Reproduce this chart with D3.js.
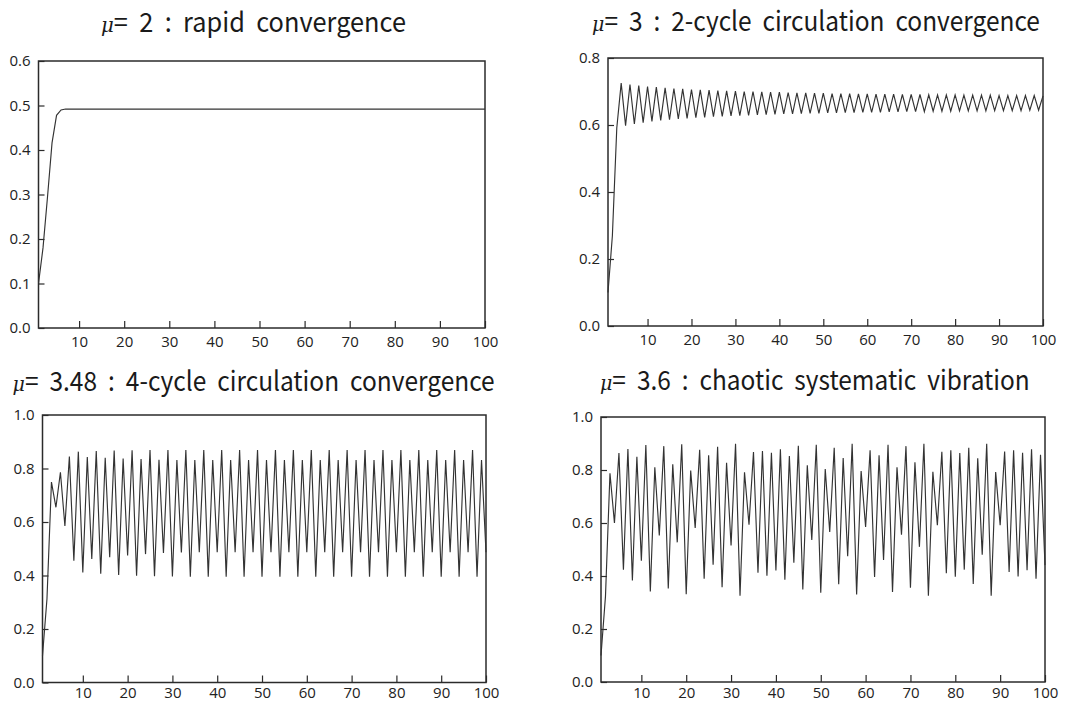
<!DOCTYPE html>
<html>
<head>
<meta charset="utf-8">
<script src="https://cdn.jsdelivr.net/npm/d3@7"></script>
<style>
  body { margin: 0; background: #fff; }
  svg { display: block; }
  .title { white-space: pre; }
</style>
</head>
<body>
<svg id="chart" width="1067" height="702"></svg>
<script>
// ---------------- data ----------------
const steps = d3.range(1, 101); // iteration number 1..100

const muValues = ["2", "3", "3.48", "3.6"];
const captions = [
  "rapid convergence",
  "2-cycle circulation convergence",
  "4-cycle circulation convergence",
  "chaotic systematic vibration"
];

const seriesMu2 = [
  0.100, 0.180, 0.295, 0.416, 0.478, 0.490, 0.492, 0.492, 0.492, 0.492,
  0.492, 0.492, 0.492, 0.492, 0.492, 0.492, 0.492, 0.492, 0.492, 0.492,
  0.492, 0.492, 0.492, 0.492, 0.492, 0.492, 0.492, 0.492, 0.492, 0.492,
  0.492, 0.492, 0.492, 0.492, 0.492, 0.492, 0.492, 0.492, 0.492, 0.492,
  0.492, 0.492, 0.492, 0.492, 0.492, 0.492, 0.492, 0.492, 0.492, 0.492,
  0.492, 0.492, 0.492, 0.492, 0.492, 0.492, 0.492, 0.492, 0.492, 0.492,
  0.492, 0.492, 0.492, 0.492, 0.492, 0.492, 0.492, 0.492, 0.492, 0.492,
  0.492, 0.492, 0.492, 0.492, 0.492, 0.492, 0.492, 0.492, 0.492, 0.492,
  0.492, 0.492, 0.492, 0.492, 0.492, 0.492, 0.492, 0.492, 0.492, 0.492,
  0.492, 0.492, 0.492, 0.492, 0.492, 0.492, 0.492, 0.492, 0.492, 0.492
];

const seriesMu3 = [
  0.100, 0.270, 0.591, 0.725, 0.598, 0.721, 0.603, 0.718, 0.607, 0.715,
  0.611, 0.713, 0.614, 0.711, 0.616, 0.709, 0.618, 0.708, 0.620, 0.706,
  0.622, 0.705, 0.623, 0.704, 0.625, 0.703, 0.626, 0.702, 0.627, 0.701,
  0.628, 0.700, 0.629, 0.700, 0.630, 0.699, 0.631, 0.698, 0.632, 0.698,
  0.633, 0.697, 0.633, 0.696, 0.634, 0.696, 0.635, 0.695, 0.635, 0.695,
  0.636, 0.694, 0.636, 0.694, 0.637, 0.694, 0.637, 0.693, 0.638, 0.693,
  0.638, 0.692, 0.638, 0.692, 0.639, 0.692, 0.639, 0.691, 0.640, 0.691,
  0.640, 0.691, 0.640, 0.690, 0.641, 0.690, 0.641, 0.690, 0.641, 0.690,
  0.642, 0.689, 0.642, 0.689, 0.642, 0.689, 0.642, 0.689, 0.643, 0.688,
  0.643, 0.688, 0.643, 0.688, 0.643, 0.688, 0.644, 0.688, 0.644, 0.687
];

const seriesMu348 = [
  0.100, 0.313, 0.749, 0.655, 0.786, 0.585, 0.845, 0.455, 0.863, 0.411,
  0.843, 0.462, 0.865, 0.407, 0.840, 0.468, 0.867, 0.402, 0.837, 0.475,
  0.868, 0.399, 0.835, 0.480, 0.869, 0.397, 0.833, 0.484, 0.869, 0.396,
  0.832, 0.486, 0.869, 0.395, 0.832, 0.487, 0.869, 0.395, 0.832, 0.487,
  0.869, 0.395, 0.832, 0.487, 0.869, 0.395, 0.832, 0.487, 0.869, 0.395,
  0.832, 0.487, 0.869, 0.395, 0.832, 0.487, 0.869, 0.395, 0.832, 0.487,
  0.869, 0.395, 0.832, 0.487, 0.869, 0.395, 0.832, 0.487, 0.869, 0.395,
  0.832, 0.487, 0.869, 0.395, 0.832, 0.487, 0.869, 0.395, 0.832, 0.487,
  0.869, 0.395, 0.832, 0.487, 0.869, 0.395, 0.832, 0.487, 0.869, 0.395,
  0.832, 0.487, 0.869, 0.395, 0.832, 0.487, 0.869, 0.395, 0.832, 0.487
];

const seriesMu36 = [
  0.100, 0.324, 0.788, 0.600, 0.864, 0.424, 0.879, 0.383, 0.850, 0.458,
  0.894, 0.342, 0.810, 0.553, 0.890, 0.353, 0.822, 0.527, 0.897, 0.331,
  0.798, 0.581, 0.876, 0.390, 0.856, 0.443, 0.888, 0.358, 0.827, 0.515,
  0.899, 0.326, 0.791, 0.594, 0.868, 0.412, 0.872, 0.401, 0.865, 0.421,
  0.878, 0.386, 0.853, 0.450, 0.891, 0.349, 0.818, 0.536, 0.895, 0.337,
  0.804, 0.566, 0.884, 0.369, 0.845, 0.475, 0.899, 0.330, 0.796, 0.585,
  0.874, 0.396, 0.856, 0.460, 0.895, 0.340, 0.810, 0.556, 0.890, 0.356,
  0.829, 0.510, 0.899, 0.326, 0.793, 0.592, 0.869, 0.410, 0.874, 0.397,
  0.864, 0.424, 0.884, 0.370, 0.844, 0.480, 0.899, 0.326, 0.792, 0.592,
  0.870, 0.415, 0.874, 0.398, 0.865, 0.422, 0.878, 0.390, 0.857, 0.441
];

const yTicksMu2 = [0.0, 0.1, 0.2, 0.3, 0.4, 0.5, 0.6];
const yTicksMu3 = [0.0, 0.2, 0.4, 0.6, 0.8];
const yTicksUnit = [0.0, 0.2, 0.4, 0.6, 0.8, 1.0];
const xTicks = [10, 20, 30, 40, 50, 60, 70, 80, 90, 100];

// ---------------- layout ----------------
const panels = [
  { series: seriesMu2,   yTicks: yTicksMu2, left: 38.5, right: 485,  top: 61,  bottom: 328,
    titleX0: 101, titleX1: 406, titleY: 31.5, xPad: 8.5 },
  { series: seriesMu3,   yTicks: yTicksMu3, left: 608,  right: 1043, top: 58,  bottom: 326,
    titleX0: 592, titleX1: 1040, titleY: 31, xPad: 8.5 },
  { series: seriesMu348, yTicks: yTicksUnit, left: 42.5, right: 486, top: 415, bottom: 682.5,
    titleX0: 12.5, titleX1: 495, titleY: 390.5, xPad: 4.5 },
  { series: seriesMu36,  yTicks: yTicksUnit, left: 601,  right: 1045, top: 417, bottom: 682,
    titleX0: 600, titleX1: 1030, titleY: 390, xPad: 5 }
];

const svg = d3.select("#chart");
const ink = "#2b2b2b";

panels.forEach((p, i) => {
  const g = svg.append("g");
  const x = d3.scaleLinear().domain([1, 100]).range([p.left, p.right]);
  const y = d3.scaleLinear().domain([0, d3.max(p.yTicks)]).range([p.bottom, p.top]);

  // title: drawn at natural size, then squeezed horizontally to the reference width
  const tg = g.append("g");
  const t = tg.append("text")
    .attr("class", "title")
    .attr("xml:space", "preserve")
    .attr("x", 0)
    .attr("y", 0)
    .attr("fill", "#1a1a1a")
    .attr("font-family", "'Noto Sans CJK KR', 'Noto Sans CJK SC', 'Noto Sans', sans-serif")
    .attr("font-size", 27)
    .attr("font-weight", 400);
  t.append("tspan")
    .attr("font-family", "'DejaVu Serif', 'Liberation Serif', serif")
    .attr("font-style", "italic")
    .attr("font-size", 21)
    .text("μ");
  t.append("tspan").text("=  " + muValues[i] + "  :  " + captions[i].split(" ").join("  "));
  const natural = t.node().getComputedTextLength();
  const sx = (p.titleX1 - p.titleX0) / natural;
  tg.attr("transform", `translate(${p.titleX0},${p.titleY}) scale(${sx},1)`);

  // y axis (ticks pointing inward)
  const ya = g.append("g")
    .attr("transform", `translate(${p.left},0)`)
    .call(d3.axisLeft(y).tickValues(p.yTicks).tickSize(-6).tickPadding(8)
      .tickFormat(d3.format(".1f")));
  // x axis (ticks pointing inward)
  const xa = g.append("g")
    .attr("transform", `translate(0,${p.bottom})`)
    .call(d3.axisBottom(x).tickValues(xTicks).tickSize(-7).tickPadding(p.xPad)
      .tickFormat(d3.format("d")));

  [ya, xa].forEach(a => {
    a.select(".domain").remove();
    a.selectAll(".tick line").attr("stroke", ink).attr("stroke-width", 1.2);
    a.selectAll(".tick text")
      .attr("fill", "#222")
      .attr("font-family", "'Open Sans', 'Noto Sans', sans-serif")
      .attr("font-size", 15);
  });

  // frame
  g.append("rect")
    .attr("x", p.left).attr("y", p.top)
    .attr("width", p.right - p.left).attr("height", p.bottom - p.top)
    .attr("fill", "none").attr("stroke", ink).attr("stroke-width", 1.5);

  // series line
  const line = d3.line()
    .x((d, k) => x(steps[k]))
    .y(d => y(d));
  g.append("path")
    .datum(p.series)
    .attr("d", line)
    .attr("fill", "none")
    .attr("stroke", "#333")
    .attr("stroke-width", 1.15)
    .attr("stroke-linejoin", "miter");
});
</script>
</body>
</html>
